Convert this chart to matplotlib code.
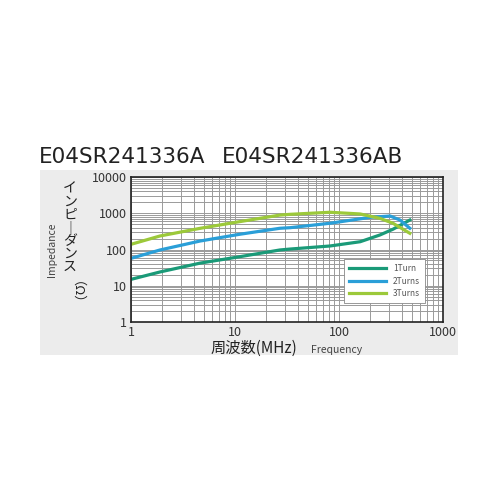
#!/usr/bin/env python3
import matplotlib
matplotlib.use('Agg')
import matplotlib.pyplot as plt
from matplotlib.patches import Rectangle

plt.rcParams['font.family'] = ['Noto Sans CJK JP', 'DejaVu Sans']

title_a = 'E04SR241336A'
title_b = 'E04SR241336AB'

# frequency (MHz) / impedance (ohm)
freq_1t = [1, 1.9, 4.6, 11, 27, 34, 82, 160, 247, 330, 480]
imp_1t = [15, 24, 42, 63, 97, 103, 125, 164, 251, 362, 650]

freq_2t = [1, 1.9, 4.6, 11, 27, 34, 82, 199, 310, 386, 480]
imp_2t = [57, 97, 171, 262, 385, 400, 530, 770, 840, 650, 385]

freq_3t = [1, 1.9, 4.6, 11, 27, 34, 82, 160, 247, 330, 480]
imp_3t = [139, 236, 383, 585, 890, 935, 1065, 955, 725, 530, 280]

labels = ['1Turn', '2Turns', '3Turns']
colors = ['#1a9a78', '#2a9fd8', '#9cc93a']

ylabel_jp = ['イ', 'ン', 'ピ', '｜', 'ダ', 'ン', 'ス']

fig = plt.figure(figsize=(5, 5), dpi=100)
fig.patches.append(Rectangle((0.08, 0.29), 0.836, 0.37, transform=fig.transFigure,
                             facecolor='#ececec', edgecolor='none', zorder=-1))

fig.text(0.078, 0.686, title_a, fontsize=15.5, color='#222222', va='center', ha='left',
         family='DejaVu Sans')
fig.text(0.443, 0.686, title_b, fontsize=15.5, color='#222222', va='center', ha='left',
         family='DejaVu Sans')

ax = fig.add_axes([0.262, 0.356, 0.624, 0.29])
ax.set_facecolor('white')
ax.set_xscale('log')
ax.set_yscale('log')
ax.set_xlim(1, 1000)
ax.set_ylim(1, 10000)
ax.grid(True, which='both', color='#9a9a9a', linewidth=0.7)
ax.tick_params(which='both', length=0, labelsize=9, colors='#333333', pad=3)
ax.set_xticks([1, 10, 100, 1000])
ax.set_xticklabels(['1', '10', '100', '1000'])
ax.set_yticks([1, 10, 100, 1000, 10000])
ax.set_yticklabels(['1', '10', '100', '1000', '10000'])
for s in ax.spines.values():
    s.set_color('#222222')
    s.set_linewidth(1.2)

for f, z, lab, c in zip([freq_1t, freq_2t, freq_3t], [imp_1t, imp_2t, imp_3t], labels, colors):
    ax.plot(f, z, color=c, linewidth=2.3, label=lab, solid_joinstyle='round')

leg = ax.legend(loc='lower right', bbox_to_anchor=(0.955, 0.1), fontsize=6,
                frameon=True, fancybox=False, handlelength=4.5, labelspacing=0.45,
                borderpad=0.6, labelcolor='#555555')
leg.get_frame().set_edgecolor('#888888')
leg.get_frame().set_linewidth(0.6)
leg.get_frame().set_alpha(1)

# vertical Japanese label, one upright character per step
for i, ch in enumerate(ylabel_jp):
    fig.text(0.14, 1 - (189 + 13 * i) / 500, ch, fontsize=10, color='#222222',
             ha='center', va='center')
fig.text(0.14, 1 - 299 / 500, '（Ω）', rotation=-90, fontsize=9.5, color='#222222',
         ha='center', va='center')
fig.text(0.105, 0.5, 'Impedance', rotation=90, fontsize=7.5, color='#444444',
         ha='center', va='center')
fig.text(0.508, 0.304, '周波数(MHz)', fontsize=11, color='#222222', ha='center', va='center')
fig.text(0.622, 0.300, 'Frequency', fontsize=7.5, color='#444444', ha='left', va='center')

fig.savefig('out.png', dpi=100)
